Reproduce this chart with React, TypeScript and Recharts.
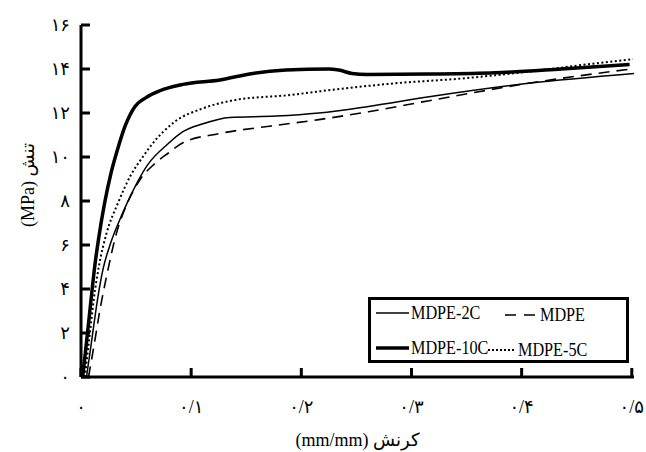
import React from 'react';
import { LineChart, Line, XAxis, YAxis, Label } from 'recharts';

const FONT = '"Liberation Serif", "DejaVu Sans", serif';

const xTicks = [0, 0.1, 0.2, 0.3, 0.4, 0.5];
const xTickLabels = ['۰', '۰/۱', '۰/۲', '۰/۳', '۰/۴', '۰/۵'];
const yTicks = [0, 2, 4, 6, 8, 10, 12, 14, 16];
const yTickLabels = ['۰', '۲', '۴', '۶', '۸', '۱۰', '۱۲', '۱۴', '۱۶'];

// MDPE-2C (thin solid)
const strain2C = [0.005, 0.01, 0.0147, 0.02, 0.027, 0.0365, 0.0485, 0.0606, 0.079, 0.0925, 0.11, 0.135, 0.177, 0.216, 0.261, 0.316, 0.406, 0.502];
const stress2C = [0, 1.76, 3.43, 4.9, 6.1, 7.3, 8.6, 9.65, 10.6, 11.15, 11.5, 11.8, 11.86, 12.0, 12.3, 12.74, 13.35, 13.8];

// MDPE (dashed)
const strainM = [0.0068, 0.0124, 0.0169, 0.0229, 0.032, 0.0425, 0.054, 0.067, 0.079, 0.0925, 0.126, 0.171, 0.216, 0.261, 0.316, 0.406, 0.499];
const stressM = [0, 1.6, 2.97, 4.5, 6.5, 7.95, 9.0, 9.7, 10.17, 10.65, 11.07, 11.4, 11.7, 12.06, 12.56, 13.35, 14.0];

// MDPE-10C (thick solid)
const strain10C = [0.0015, 0.0057, 0.0093, 0.0124, 0.016, 0.0214, 0.0274, 0.0335, 0.04, 0.049, 0.059, 0.071, 0.0925, 0.126, 0.156, 0.186, 0.225, 0.234, 0.246, 0.26, 0.316, 0.376, 0.436, 0.498];
const stress10C = [0, 1.9, 3.6, 5.0, 6.3, 7.9, 9.3, 10.4, 11.4, 12.3, 12.7, 13.0, 13.3, 13.5, 13.8, 13.95, 14.0, 13.95, 13.8, 13.75, 13.77, 13.83, 14.0, 14.2];

// MDPE-5C (dotted)
const strain5C = [0.0035, 0.0079, 0.0118, 0.0165, 0.023, 0.0335, 0.0455, 0.056, 0.064, 0.085, 0.11, 0.141, 0.186, 0.231, 0.285, 0.346, 0.406, 0.466, 0.501];
const stress5C = [0, 1.9, 3.6, 5.1, 6.5, 7.9, 9.2, 10.0, 10.55, 11.6, 12.2, 12.6, 12.8, 13.07, 13.35, 13.57, 13.88, 14.25, 14.45];

const zip = (xs: number[], ys: number[]) => xs.map((x, i) => ({ x, y: ys[i] }));

const series = [
  { name: 'MDPE-2C', data: zip(strain2C, stress2C), width: 1.5, dash: undefined as string | undefined, legendDash: undefined as string | undefined },
  { name: 'MDPE', data: zip(strainM, stressM), width: 1.6, dash: '11 7', legendDash: '11 8' },
  { name: 'MDPE-10C', data: zip(strain10C, stress10C), width: 3.5, dash: undefined, legendDash: undefined },
  { name: 'MDPE-5C', data: zip(strain5C, stress5C), width: 2, dash: '2 2.5', legendDash: '2 2' },
];

function LegendBox() {
  const cell = (s: typeof series[number], left: number, top: number, sample: number, gap: number) => (
    <div style={{ position: 'absolute', left, top, display: 'flex', alignItems: 'center', height: 24, whiteSpace: 'nowrap' }}>
      <svg width={sample} height={10} style={{ marginRight: gap }}>
        <line x1={0} y1={5} x2={sample} y2={5} stroke="#000" strokeWidth={s.width} strokeDasharray={s.legendDash} />
      </svg>
      <span style={{ display: 'inline-block', transform: 'scaleX(0.9)', transformOrigin: 'left center' }}>{s.name}</span>
    </div>
  );
  return (
    <div style={{
      position: 'absolute', left: 368, top: 297,
      boxSizing: 'border-box', width: 261, height: 66, border: '3px solid #000', background: '#fff',
      fontFamily: FONT, fontSize: 18, color: '#000',
    }}>
      {cell(series[0], 5, 1, 33, 2)}
      {cell(series[1], 134, 3, 30, 5)}
      {cell(series[2], 5, 36, 33, 2)}
      {cell(series[3], 117, 38, 28, 2)}
    </div>
  );
}

export default function App() {
  return (
    <div style={{ position: 'absolute', left: 0, top: 0, width: 646, height: 452, background: '#fff' }}>
      <LineChart width={646} height={452} margin={{ top: 25, right: 12, bottom: 0, left: 41 }}>
        <XAxis
          dataKey="x"
          type="number"
          domain={[0, 0.5]}
          ticks={xTicks}
          allowDuplicatedCategory={false}
          tickFormatter={(v: number) => xTickLabels[xTicks.indexOf(v)]}
          tick={{ fill: '#000', fontSize: 18, fontFamily: FONT }}
          tickSize={-9}
          tickMargin={32}
          axisLine={{ stroke: '#000', strokeWidth: 3 }}
          tickLine={{ stroke: '#000', strokeWidth: 3 }}
          height={75}
        >
          <Label
            value="(mm/mm) کرنش"
            position="insideBottom"
            offset={6}
            style={{ fill: '#000', fontSize: 18, fontFamily: FONT }}
          />
        </XAxis>
        <YAxis
          dataKey="y"
          type="number"
          domain={[0, 16]}
          ticks={yTicks}
          tickFormatter={(v: number) => yTickLabels[yTicks.indexOf(v)]}
          tick={{ fill: '#000', fontSize: 18, fontFamily: FONT }}
          tickSize={-9}
          tickMargin={20}
          axisLine={{ stroke: '#000', strokeWidth: 3 }}
          tickLine={{ stroke: '#000', strokeWidth: 3 }}
          width={40}
        >
          <Label
            content={(props: any) => {
              const vb = props.viewBox;
              const cy = vb.y + vb.height / 2 - 16;
              return (
                <text
                  x={28}
                  y={cy}
                  transform={`rotate(-90, 28, ${cy})`}
                  textAnchor="middle"
                  dominantBaseline="central"
                  fill="#000"
                  fontSize={18}
                  fontFamily={FONT}
                >
                  (MPa) تنش
                </text>
              );
            }}
          />
        </YAxis>
        {series.map((s) => (
          <Line
            key={s.name}
            name={s.name}
            data={s.data}
            dataKey="y"
            type="monotone"
            stroke="#000"
            strokeWidth={s.width}
            strokeDasharray={s.dash}
            dot={false}
            activeDot={false}
            isAnimationActive={false}
          />
        ))}
      </LineChart>
      <LegendBox />
    </div>
  );
}
